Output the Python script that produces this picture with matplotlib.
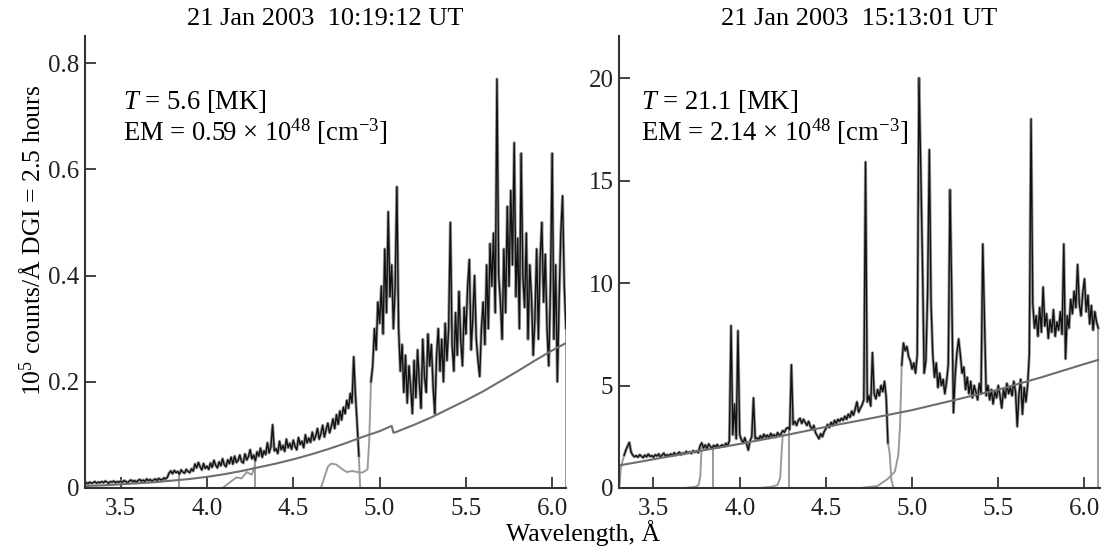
import numpy as np
import matplotlib
matplotlib.use('Agg')
import matplotlib.pyplot as plt

plt.rcParams['font.family'] = 'Liberation Serif'
plt.rcParams['mathtext.fontset'] = 'custom'
plt.rcParams['mathtext.rm'] = 'Liberation Serif'
plt.rcParams['mathtext.it'] = 'Liberation Serif:italic'

nan = np.nan

# observed spectrum, 10:19:12 UT, 0.01 A steps from 3.30 A (units 1e5 counts/A)
spec_left = [
    0.010, 0.008, 0.011, 0.009, 0.010, 0.012, 0.009, 0.011, 0.010, 0.012,
    0.010, 0.013, 0.011, 0.009, 0.012, 0.011, 0.013, 0.010, 0.012, 0.011,
    0.013, 0.011, 0.014, 0.012, 0.010, 0.013, 0.015, 0.012, 0.014, 0.011,
    0.014, 0.016, 0.013, 0.015, 0.012, 0.017, 0.014, 0.016, 0.013, 0.015,
    0.017, 0.014, 0.018, 0.016, 0.015, 0.019, 0.017, 0.020, 0.028, 0.032,
    0.027, 0.033, 0.029, 0.031, 0.026, 0.034, 0.030, 0.028, 0.035, 0.031,
    0.029, 0.036, 0.032, 0.045, 0.038, 0.048, 0.040, 0.034, 0.046, 0.037,
    0.041, 0.035, 0.047, 0.039, 0.052, 0.043, 0.038, 0.049, 0.042, 0.055,
    0.044, 0.040, 0.053, 0.046, 0.058, 0.045, 0.060, 0.048, 0.052, 0.062,
    0.050, 0.047, 0.064, 0.053, 0.059, 0.072, 0.055, 0.062, 0.051, 0.068,
    0.060, 0.075, 0.058, 0.070, 0.063, 0.085, 0.066, 0.078, 0.119, 0.070,
    0.074, 0.065, 0.088, 0.072, 0.080, 0.069, 0.092, 0.076, 0.084, 0.073,
    0.090, 0.078, 0.072, 0.095, 0.082, 0.088, 0.076, 0.100, 0.085, 0.094,
    0.086, 0.105, 0.090, 0.098, 0.112, 0.092, 0.102, 0.118, 0.096, 0.110,
    0.122, 0.104, 0.115, 0.130, 0.112, 0.138, 0.120, 0.145, 0.128, 0.152,
    0.140, 0.165, 0.150, 0.178, 0.160, 0.247, 0.175, 0.120, 0.060, nan,
    nan, nan, nan, nan, nan, 0.200, 0.230, 0.300, 0.260, 0.350,
    0.310, 0.380, 0.290, 0.450, 0.330, 0.520, 0.360, 0.420, 0.300, 0.380,
    0.567, 0.300, 0.220, 0.270, 0.180, 0.250, 0.160, 0.230, 0.190, 0.140,
    0.240, 0.170, 0.260, 0.200, 0.150, 0.280, 0.210, 0.180, 0.290, 0.230,
    0.270, 0.190, 0.140, 0.250, 0.300, 0.220, 0.280, 0.200, 0.310, 0.240,
    0.300, 0.500, 0.270, 0.220, 0.330, 0.250, 0.370, 0.280, 0.230, 0.340,
    0.290, 0.380, 0.430, 0.260, 0.320, 0.400, 0.280, 0.240, 0.210, 0.300,
    0.350, 0.270, 0.420, 0.300, 0.460, 0.380, 0.480, 0.330, 0.770, 0.400,
    0.350, 0.280, 0.450, 0.330, 0.530, 0.380, 0.560, 0.420, 0.650, 0.360,
    0.470, 0.300, 0.630, 0.400, 0.340, 0.480, 0.280, 0.420, 0.360, 0.250,
    0.320, 0.450, 0.280, 0.430, 0.500, 0.350, 0.440, 0.300, 0.230, 0.380,
    0.630, 0.280, 0.420, 0.200, 0.350, 0.480, 0.550, 0.380, 0.300,
]

# observed spectrum, 15:13:01 UT, same grid
spec_right = [
    nan, nan, nan, 1.60, 1.85, 2.05, 2.22, 1.75, 1.60, 1.52,
    1.58, 1.50, 1.62, 1.55, 1.48, 1.60, 1.52, 1.65, 1.54, 1.58,
    1.50, 1.62, 1.56, 1.66, 1.52, 1.60, 1.70, 1.55, 1.62, 1.58,
    1.66, 1.57, 1.72, 1.60, 1.68, 1.75, 1.62, 1.70, 1.66, 1.78,
    1.70, 1.76, 1.68, 1.82, 1.74, 1.80, 1.72, 2.05, 2.20, 1.95,
    2.10, 1.92, 2.15, 2.02, 1.96, 2.08, 2.00, 2.12, 1.98, 2.06,
    2.10, 2.02, 2.18, 2.06, 2.30, 7.92, 2.60, 4.10, 2.40, 7.67,
    2.60, 2.35, 2.20, 2.45, 2.15, 1.85, 2.30, 2.50, 4.39, 2.40,
    2.45, 2.35, 2.55, 2.40, 2.62, 2.48, 2.58, 2.44, 2.66, 2.52,
    2.60, 2.48, 2.70, 2.55, 2.65, 2.80, 2.72, 2.90, 2.95, 2.85,
    6.01, 3.10, 3.25, 3.05, 3.30, 3.40, 3.15, 3.35, 3.20, 3.05,
    3.25, 3.00, 2.85, 3.05, 2.70, 2.55, 2.40, 2.65, 2.50, 2.75,
    2.90, 3.10, 2.95, 3.20, 3.05, 3.30, 3.15, 3.35, 3.25, 3.40,
    3.30, 3.50, 3.35, 3.60, 3.45, 3.75, 3.55, 3.85, 4.20, 3.70,
    3.90, 4.05, 4.30, 15.90, 4.20, 4.50, 4.00, 6.60, 4.60, 4.35,
    4.80, 4.50, 5.00, 4.70, 5.20, 4.40, 2.20, nan, nan, nan,
    nan, nan, nan, nan, 6.00, 7.07, 6.70, 6.90, 6.40, 6.20,
    5.80, 6.10, 5.60, 6.50, 20.00, 15.70, 11.10, 5.60, 6.20, 9.50,
    16.50, 9.00, 6.50, 5.40, 6.10, 4.90, 5.60, 5.00, 5.30, 4.60,
    5.20, 6.00, 14.55, 9.50, 3.67, 5.50, 6.60, 7.27, 6.50, 5.60,
    5.90, 4.80, 5.40, 4.60, 5.20, 4.40, 5.00, 4.70, 4.30, 5.10,
    4.60, 11.90, 8.20, 4.50, 5.00, 4.30, 4.80, 4.10, 4.70, 4.40,
    5.00, 4.50, 3.90, 4.80, 4.40, 5.10, 4.60, 4.90, 4.50, 5.20,
    4.70, 3.00, 4.60, 5.30, 3.60, 4.90, 4.20, 5.00, 6.50, 18.00,
    9.00, 7.80, 8.40, 7.40, 8.80, 7.60, 9.80, 7.90, 8.50, 7.30,
    8.20, 7.60, 8.70, 7.40, 8.10, 7.70, 8.60, 7.50, 11.90, 6.30,
    8.40, 7.80, 9.20, 8.50, 9.60, 8.80, 10.90, 9.00, 8.40, 9.50,
    10.20, 8.60, 9.40, 8.00, 8.90, 7.70, 8.60, 8.10, 7.80,
]

# model continuum
cont_left_wl = [3.30, 3.40, 3.50, 3.60, 3.70, 3.80, 3.90, 4.00, 4.10, 4.20, 4.30, 4.40, 4.50,
                4.60, 4.70, 4.80, 4.90, 5.00, 5.07, 5.08, 5.10, 5.20, 5.30, 5.40, 5.50, 5.60,
                5.70, 5.80, 5.90, 6.00, 6.08]
cont_left = [0.004, 0.005, 0.007, 0.009, 0.011, 0.014, 0.017, 0.021, 0.026, 0.032, 0.039, 0.046,
             0.054, 0.063, 0.073, 0.084, 0.096, 0.107, 0.117, 0.104, 0.106, 0.119, 0.133, 0.149,
             0.165, 0.182, 0.201, 0.220, 0.240, 0.259, 0.273]
cont_right_wl = [3.30, 3.50, 3.75, 4.00, 4.25, 4.50, 4.75, 5.00, 5.25, 5.50, 5.75, 6.00, 6.08]
cont_right = [1.10, 1.40, 1.78, 2.15, 2.55, 2.98, 3.38, 3.80, 4.30, 4.80, 5.40, 6.05, 6.25]

# channel edges (drawn grey)
edges_left = [
    ([4.09, 4.13, 4.17, 4.20, 4.23, 4.26, 4.275], [0, 0.010, 0.020, 0.018, 0.030, 0.025, 0.040]),
    ([4.28, 4.28], [0.055, 0]),
    ([3.84, 3.84], [0.03, 0]),
    ([4.66, 4.68, 4.70, 4.72, 4.75, 4.78, 4.81, 4.84, 4.87, 4.90, 4.93, 4.94, 4.95],
     [0, 0.020, 0.040, 0.046, 0.044, 0.036, 0.030, 0.032, 0.030, 0.029, 0.035, 0.090, 0.200]),
    ([4.88, 4.886, 4.888], [0.060, 0.010, 0]),
    ([6.08, 6.08], [0.30, 0]),
]
edges_right = [
    ([3.30, 3.305, 3.31, 3.32, 3.33], [0, 0.3, 0.9, 1.3, 1.6]),
    ([3.675, 3.74, 3.762, 3.772, 3.777, 3.78], [0, 0.05, 0.15, 0.6, 1.6, 2.05]),
    ([3.845, 3.845], [2.03, 0]),
    ([4.11, 4.18, 4.22, 4.235, 4.245, 4.25], [0, 0.05, 0.15, 0.5, 2.0, 2.6]),
    ([4.284, 4.284], [2.8, 0]),
    ([4.70, 4.80, 4.86, 4.90, 4.92, 4.93, 4.94], [0, 0.10, 0.45, 0.80, 1.60, 3.00, 6.00]),
    ([4.86, 4.87, 4.875, 4.88, 4.89, 4.90], [2.20, 1.70, 1.00, 0.40, 0.05, 0]),
    ([6.08, 6.08], [7.80, 0]),
]

titles = ['21 Jan 2003  10:19:12 UT', '21 Jan 2003  15:13:01 UT']
notes = [r'$T$ = 5.6 [MK]' + '\n' + r'EM = 0.59 $\times$ 10$^{48}$ [cm$^{-3}$]',
         r'$T$ = 21.1 [MK]' + '\n' + r'EM = 2.14 $\times$ 10$^{48}$ [cm$^{-3}$]']
xticks = [3.5, 4.0, 4.5, 5.0, 5.5, 6.0]
yticks_left = [0, 0.2, 0.4, 0.6, 0.8]
yticks_right = [0, 5, 10, 15, 20]

W, H = 1104, 550
fig = plt.figure(figsize=(W / 100, H / 100), dpi=100)
ax1 = fig.add_axes([85 / W, 62 / H, 481 / W, 452 / H])
ax2 = fig.add_axes([619 / W, 62 / H, 481 / W, 452 / H])

panels = [
    (ax1, spec_left, cont_left_wl, cont_left, edges_left, (3.293, 6.08), (0, 0.851), yticks_left,
     ['0', '0.2', '0.4', '0.6', '0.8'], 0.079),
    (ax2, spec_right, cont_right_wl, cont_right, edges_right, (3.30, 6.09), (0, 22.05), yticks_right,
     ['0', '5', '10', '15', '20'], 0.046),
]

for i, (ax, spec, cwl, cval, edges, xl, yl, yt, ytl, note_x) in enumerate(panels):
    spec = np.array(spec)
    wl = 3.30 + 0.01 * np.arange(len(spec))
    for ex, ey in edges:
        ax.plot(ex, ey, color='#9a9a9a', lw=1.4, solid_joinstyle='round')
    ax.plot(wl, spec, color='#9a9a9a', lw=2.2)
    ax.plot(wl, spec, color='#111111', lw=1.0)
    ax.plot(cwl, cval, color='#6e6e6e', lw=1.5)

    ax.set_xlim(xl)
    ax.set_ylim(yl)
    ax.set_xticks(xticks)
    ax.set_xticklabels(['%.1f' % t for t in xticks])
    ax.set_yticks(yt)
    ax.set_yticklabels(ytl)
    ax.tick_params(direction='in', length=8, width=1.2, labelsize=18, colors='#222222')
    ax.tick_params(axis='x', pad=7)
    ax.tick_params(axis='y', pad=4)
    for s in ['top', 'right']:
        ax.spines[s].set_visible(False)
    for s in ['left', 'bottom']:
        ax.spines[s].set_linewidth(1.5)
        ax.spines[s].set_color('#333333')

    ax.text(note_x, 0.885, notes[i], transform=ax.transAxes, fontsize=19.2,
            va='top', ha='left', linespacing=1.05)

fig.text(325.5 / W, 1 - 19 / H, titles[0], ha='center', va='center', fontsize=19)
fig.text(859 / W, 1 - 19 / H, titles[1], ha='center', va='center', fontsize=19)
fig.text(583 / W, 1 - 533 / H, 'Wavelength, Å', ha='center', va='center', fontsize=18.5)
fig.text(33 / W, 1 - 240 / H, r'10$^5$ counts/Å DGI = 2.5 hours', ha='center', va='center',
         rotation=90, fontsize=18.5)

fig.savefig('out.png', dpi=100)
